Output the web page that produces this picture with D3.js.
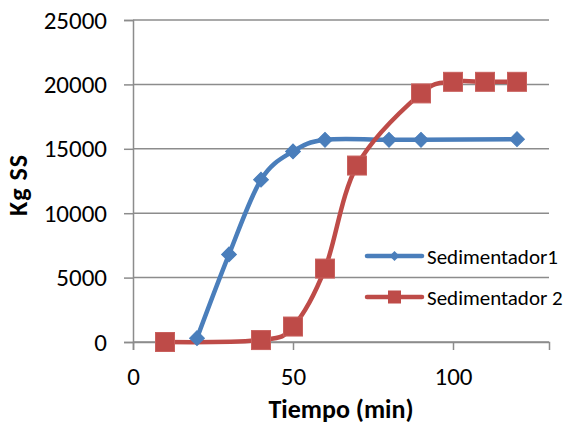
<!DOCTYPE html>
<html>
<head>
<meta charset="utf-8">
<script src="https://cdn.jsdelivr.net/npm/d3@7"></script>
<style>
  html, body { margin: 0; padding: 0; background: #fff; }
  text { font-family: Carlito, Lato, "Open Sans", sans-serif; fill: #000; }
</style>
</head>
<body>
<svg id="chart" width="574" height="425"></svg>
<script>
// Sedimented solids over time for two settlers
const tiempo1 = [20, 30, 40, 50, 60, 80, 90, 120];
const sedimentador1 = [300, 6800, 12600, 14800, 15700, 15700, 15700, 15750];
const tiempo2 = [10, 40, 50, 60, 70, 90, 100, 110, 120];
const sedimentador2 = [0, 150, 1200, 5700, 13700, 19300, 20200, 20200, 20200];
const seriesNames = ["Sedimentador1", "Sedimentador 2"];
const xTicks = [0, 50, 100];
const yTicks = [0, 5000, 10000, 15000, 20000, 25000];

const blue = "#4A7EBB", red = "#BE4B48";
const svg = d3.select("#chart");
const m = { left: 133, right: 549, top: 20, bottom: 342 };

const x = d3.scaleLinear().domain([0, 130]).range([m.left, m.right]);
const y = d3.scaleLinear().domain([0, 25000]).range([m.bottom, m.top]);

// horizontal gridlines
svg.append("g").selectAll("line").data(yTicks).join("line")
  .attr("x1", m.left).attr("x2", m.right)
  .attr("y1", d => y(d)).attr("y2", d => y(d))
  .attr("stroke", "#8c8c8c").attr("stroke-width", 1.5);

// axes
const yAxis = svg.append("g").attr("transform", `translate(${m.left},0)`)
  .call(d3.axisLeft(y).tickValues(yTicks).tickSize(9).tickPadding(17).tickFormat(d3.format("d")));
const xAxis = svg.append("g").attr("transform", `translate(0,${m.bottom})`)
  .call(d3.axisBottom(x).tickValues(xTicks).tickSize(8).tickPadding(17));
[yAxis, xAxis].forEach(a => {
  a.select(".domain").attr("stroke", "#8c8c8c").attr("stroke-width", 1.5);
  a.selectAll(".tick line").attr("stroke", "#8c8c8c").attr("stroke-width", 1.5);
  a.selectAll("text").style("font-family", "Carlito, Lato, sans-serif").style("font-size", "25px").attr("fill", "#000");
});
yAxis.selectAll(".tick text").attr("x", -26);

// axis titles
svg.append("text").attr("x", 341).attr("y", 418).attr("text-anchor", "middle")
  .style("font-size", "26px").style("font-weight", "bold")
  .text("Tiempo (min)");
svg.append("text").attr("transform", "translate(27,185) rotate(-90)").attr("text-anchor", "middle")
  .style("font-size", "26px").style("font-weight", "bold").style("letter-spacing", "1px")
  .text("Kg SS");

const line = d3.line().x(d => x(d[0])).y(d => y(d[1])).curve(d3.curveCardinal.tension(0));
const pts1 = tiempo1.map((t, i) => [t, sedimentador1[i]]);
const pts2 = tiempo2.map((t, i) => [t, sedimentador2[i]]);

svg.append("path").datum(pts1).attr("d", line).attr("fill", "none")
  .attr("stroke", blue).attr("stroke-width", 4.5);
svg.append("path").datum(pts2).attr("d", line).attr("fill", "none")
  .attr("stroke", red).attr("stroke-width", 4.5);

const diamond = d3.symbol().type(d3.symbolSquare).size(110);
svg.append("g").selectAll("path").data(pts1).join("path")
  .attr("d", diamond)
  .attr("transform", d => `translate(${x(d[0])},${y(d[1])}) rotate(45)`)
  .attr("fill", blue).attr("stroke", blue).attr("stroke-width", 1);
svg.append("g").selectAll("rect").data(pts2).join("rect")
  .attr("x", d => x(d[0]) - 9.5).attr("y", d => y(d[1]) - 9.5)
  .attr("width", 19).attr("height", 19)
  .attr("fill", red).attr("stroke", "#c9605d").attr("stroke-width", 1);

// legend
const legend = svg.append("g");
const ly = [256, 297];
const cols = [blue, red];
seriesNames.forEach((name, i) => {
  legend.append("line").attr("x1", 367).attr("x2", 422).attr("y1", ly[i]).attr("y2", ly[i])
    .attr("stroke", cols[i]).attr("stroke-width", 4.5).attr("stroke-linecap", "round");
  if (i === 0) {
    legend.append("path").attr("d", d3.symbol().type(d3.symbolSquare).size(50))
      .attr("transform", `translate(394.5,${ly[i]}) rotate(45)`).attr("fill", blue);
  } else {
    legend.append("rect").attr("x", 388).attr("y", ly[i] - 6.5).attr("width", 13).attr("height", 13)
      .attr("fill", red);
  }
  legend.append("text").attr("x", 427).attr("y", ly[i] + 7.5)
    .style("font-size", "21px").text(name);
});
</script>
</body>
</html>
